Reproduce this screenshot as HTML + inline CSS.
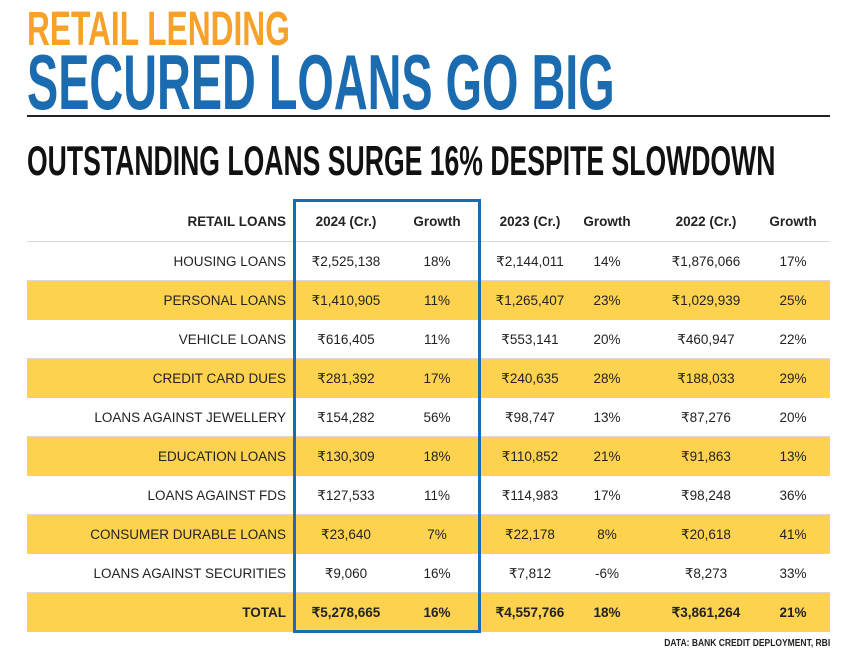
<!DOCTYPE html>
<html><head><meta charset="utf-8"><style>
body{margin:0;width:859px;height:657px;background:#fff;position:relative;overflow:hidden;font-family:"Liberation Sans",sans-serif}
.t{position:absolute;left:27px;white-space:nowrap;font-weight:bold;transform-origin:0 0;line-height:1}
#t1{top:6px;font-size:48px;color:#f5a12a;transform:scaleX(0.66)}
#t2{top:43px;font-size:78px;color:#1a6bb0;transform:scaleX(0.6)}
#rule{position:absolute;left:27px;top:115px;width:803px;height:2px;background:#222}
#t3{top:140px;font-size:42px;color:#111;transform:scaleX(0.633)}
.row{position:absolute;left:27px;width:803px;height:39px;border-bottom:1px solid #d8d8d8;box-sizing:border-box}
.row.y{background:#fdd24f;border-bottom:none}
.c{position:absolute;top:0;line-height:39px;font-size:13.5px;color:#222;white-space:nowrap;transform:translateX(-50%)}
.lab{position:absolute;top:0;line-height:39px;font-size:13.5px;color:#222;right:calc(803px - 259px);white-space:nowrap}
.b .c,.b .lab{font-weight:bold}
#box{position:absolute;left:293px;top:199px;width:188px;height:434px;border:3px solid #1a6bb0;box-sizing:border-box}
#src{position:absolute;right:29px;top:638px;font-size:10px;font-weight:bold;color:#222;transform:scaleX(0.85);transform-origin:100% 0}
</style></head><body>
<div class="t" id="t1">RETAIL LENDING</div>
<div class="t" id="t2">SECURED LOANS GO BIG</div>
<div id="rule"></div>
<div class="t" id="t3">OUTSTANDING LOANS SURGE 16% DESPITE SLOWDOWN</div>
<div id="tbl"></div>
<div id="box"></div>
<div id="src">DATA: BANK CREDIT DEPLOYMENT, RBI</div>
<script>
const headers=["RETAIL LOANS","2024 (Cr.)","Growth","2023 (Cr.)","Growth","2022 (Cr.)","Growth"];
const categories=["HOUSING LOANS","PERSONAL LOANS","VEHICLE LOANS","CREDIT CARD DUES","LOANS AGAINST JEWELLERY","EDUCATION LOANS","LOANS AGAINST FDS","CONSUMER DURABLE LOANS","LOANS AGAINST SECURITIES","TOTAL"];
const v2024=["₹2,525,138","₹1,410,905","₹616,405","₹281,392","₹154,282","₹130,309","₹127,533","₹23,640","₹9,060","₹5,278,665"];
const g2024=["18%","11%","11%","17%","56%","18%","11%","7%","16%","16%"];
const v2023=["₹2,144,011","₹1,265,407","₹553,141","₹240,635","₹98,747","₹110,852","₹114,983","₹22,178","₹7,812","₹4,557,766"];
const g2023=["14%","23%","20%","28%","13%","21%","17%","8%","-6%","18%"];
const v2022=["₹1,876,066","₹1,029,939","₹460,947","₹188,033","₹87,276","₹91,863","₹98,248","₹20,618","₹8,273","₹3,861,264"];
const g2022=["17%","25%","22%","29%","20%","13%","36%","41%","33%","21%"];
const colX=[319,410,503,580,679,766];
const tbl=document.getElementById('tbl');
function mkRow(top,cls,label,vals,name){
  const r=document.createElement('div');
  r.className='row '+cls;r.style.top=top+'px';
  
  
  const l=document.createElement('div');l.className='lab';l.textContent=label;
  
  
  r.appendChild(l);
  vals.forEach((v,i)=>{const c=document.createElement('div');c.className='c';c.style.left=colX[i]+'px';c.textContent=v;
    
    
    r.appendChild(c);});
  tbl.appendChild(r);
}
mkRow(202,'b h','RETAIL LOANS',headers.slice(1),'header-row');
categories.forEach((cat,i)=>{
  let cls=(i%2===1?'y':'');if(i===categories.length-1)cls+=' b';
  mkRow(242+i*39,cls,cat,[v2024[i],g2024[i],v2023[i],g2023[i],v2022[i],g2022[i]],'row-'+cat.toLowerCase().replace(/\s+/g,'-'));
});
document.querySelector('.h').style.height='40px';
</script>
</body></html>
